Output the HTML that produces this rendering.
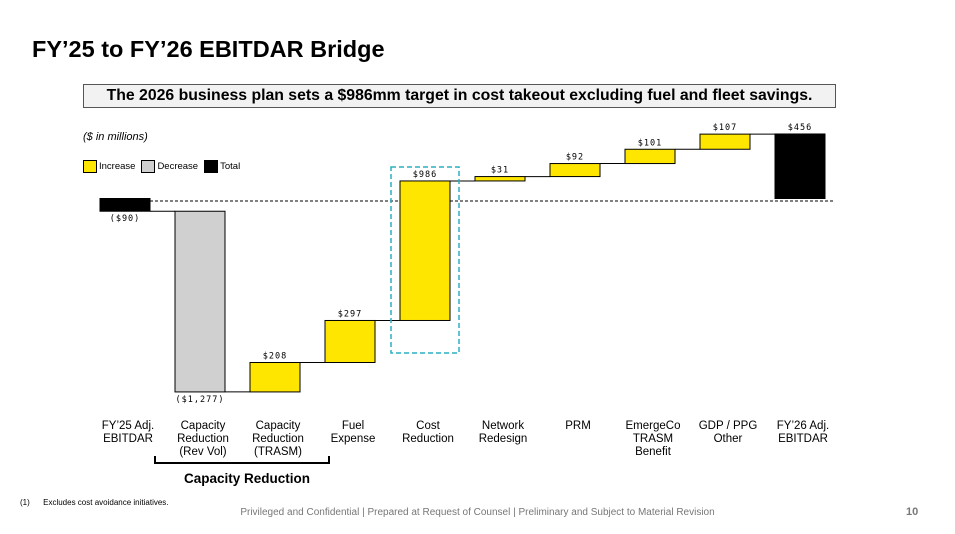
<!DOCTYPE html>
<html><head><meta charset="utf-8"><style>
body{margin:0;width:955px;height:534px;background:#fff;font-family:"Liberation Sans",sans-serif;overflow:hidden;position:relative}
.t{position:absolute}
</style></head><body>
<div class="t" style="left:32px;top:36px;font-size:23.5px;font-weight:bold;color:#000">FY’25 to FY’26 EBITDAR Bridge</div>
<div class="t" style="left:83px;top:84px;width:751px;height:22px;border:1px solid #555;background:#f2f2f2;font-size:15.8px;font-weight:bold;text-align:center;line-height:22px;white-space:nowrap">The 2026 business plan sets a $986mm target in cost takeout excluding fuel and fleet savings.</div>
<div class="t" style="left:83px;top:131px;font-size:11px;font-style:italic">($ in millions)</div>
<div class="t" style="left:83px;top:160px;font-size:9.5px;display:flex;align-items:center">
<span style="width:12px;height:11px;background:#ffe600;border:1px solid #000;display:inline-block;margin-right:2px"></span>Increase
<span style="width:12px;height:11px;background:#d0d0d0;border:1px solid #000;display:inline-block;margin:0 2px 0 6px"></span>Decrease
<span style="width:12px;height:11px;background:#000;border:1px solid #000;display:inline-block;margin:0 2px 0 6px"></span>Total</div>
<svg class="t" style="left:0;top:0" width="955" height="534">
<g id="g"></g></svg>
<div class="t" style="left:154px;top:456px;width:172px;height:6px;border:2px solid #000;border-top:none"></div>
<div class="t" style="left:147px;top:471px;width:200px;text-align:center;font-size:13.5px;font-weight:bold">Capacity Reduction</div>
<div class="t" style="left:20px;top:498px;font-size:8px">(1)&nbsp;&nbsp;&nbsp;&nbsp;&nbsp;&nbsp;Excludes cost avoidance initiatives.</div>
<div class="t" style="left:0;width:955px;top:507px;text-align:center;font-size:10px;color:#777">Privileged and Confidential | Prepared at Request of Counsel | Preliminary and Subject to Material Revision</div>
<div class="t" style="left:906px;top:506px;font-size:11px;color:#777;font-weight:bold">10</div>
<script>
const categories=["FY’25 Adj.\nEBITDAR","Capacity\nReduction\n(Rev Vol)","Capacity\nReduction\n(TRASM)","Fuel\nExpense","Cost\nReduction","Network\nRedesign","PRM","EmergeCo\nTRASM\nBenefit","GDP / PPG\nOther","FY’26 Adj.\nEBITDAR"];
const values=[-90,-1277,208,297,986,31,92,101,107,456];
const kinds=["total","dec","inc","inc","inc","inc","inc","inc","inc","total"];
const labels=["($90)","($1,277)","$208","$297","$986","$31","$92","$101","$107","$456"];
const NS="http://www.w3.org/2000/svg",g=document.getElementById('g');
const y=v=>198.5-v*0.1415, x=i=>125+i*75, W=50;
function mk(t,a){const e=document.createElementNS(NS,t);for(const k in a)e.setAttribute(k,a[k]);g.appendChild(e);return e;}
const base=mk('line',{x1:150,x2:835,y1:201,y2:201,stroke:'#000','stroke-width':1,'stroke-dasharray':'3,2'});

let cum=0,prevEnd=null;
values.forEach((v,i)=>{
 let a,b;
 if(kinds[i]==='total'){a=0;b=v;cum=v;}else{a=cum;b=cum+v;cum=b;}
 const top=y(Math.max(a,b)),bot=y(Math.min(a,b));
 if(prevEnd!==null){const c=mk('line',{x1:x(i-1)+W/2,x2:x(i)-W/2,y1:y(prevEnd),y2:y(prevEnd),stroke:'#000','stroke-width':1});
  }
 prevEnd=b;
 const r=mk('rect',{x:x(i)-W/2,y:top,width:W,height:Math.max(bot-top,1),fill:kinds[i]==='total'?'#000':kinds[i]==='dec'?'#d0d0d0':'#ffe600',stroke:'#000','stroke-width':1});
 
 const ly=v<0?bot+10:top-4;
 const t=mk('text',{x:x(i),y:ly,'text-anchor':'middle','font-size':8.5,'letter-spacing':'1','font-family':'DejaVu Sans Mono,monospace'});t.textContent=labels[i];
 
 categories[i].split('\n').forEach((ln,j)=>{const c=mk('text',{x:x(i)+3,y:429+j*13,'text-anchor':'middle','font-size':11.5,'font-family':'Liberation Sans,sans-serif'});c.textContent=ln;
  });
});
const h=mk('rect',{x:391,y:167,width:68,height:186,fill:'none',stroke:'#2ab0c0','stroke-width':1.5,'stroke-dasharray':'5,3'});

</script>
</body></html>
